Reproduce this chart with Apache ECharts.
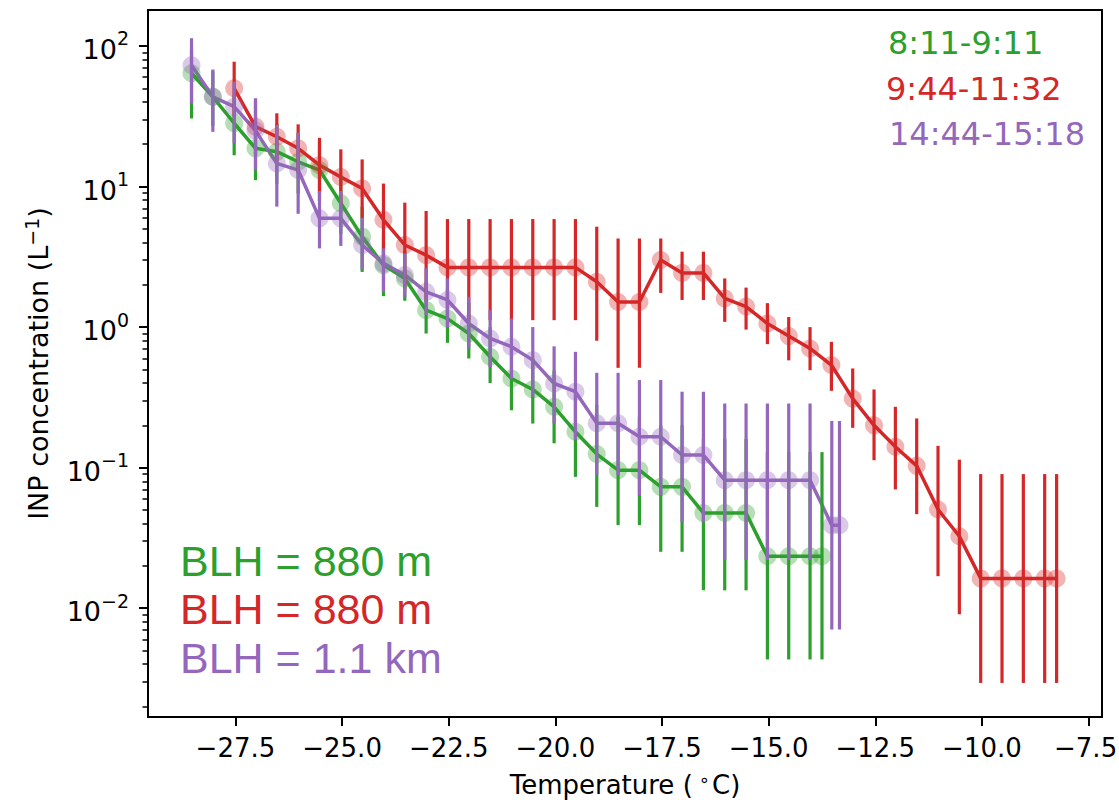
<!DOCTYPE html>
<html><head><meta charset="utf-8">
<script src="https://cdn.jsdelivr.net/npm/echarts@6/dist/echarts.min.js"></script>
<style>html,body{margin:0;padding:0;background:#fff}#c{width:1119px;height:803px}</style>
</head><body><div id="c"></div><script>
// ---- data ----
const greenT = [-28.53,-28.03,-27.53,-27.03,-26.53,-26.03,-25.53,-25.03,-24.53,-24.03,-23.53,-23.03,-22.53,-22.03,-21.53,-21.03,-20.53,-20.03,-19.53,-19.03,-18.53,-18.03,-17.53,-17.03,-16.53,-16.03,-15.53,-15.03,-14.53,-14.03,-13.75];
const greenV = [64,43.5,28.2,18.7,17.7,15.0,13.1,7.6,4.4,2.76,2.22,1.32,1.15,0.90,0.615,0.431,0.36,0.271,0.18,0.125,0.096,0.096,0.073,0.073,0.0476,0.0476,0.0476,0.0234,0.0234,0.0234,0.0234];
const greenLo = [30.5,27,16.7,11.1,10.4,8.9,7.9,4.6,2.47,1.66,1.54,0.90,0.773,0.598,0.40,0.256,0.206,0.149,0.086,0.0526,0.039,0.039,0.0252,0.0252,0.0134,0.0134,0.0134,0.00432,0.00432,0.00432,0.00432];
const greenHi = [95,66,45,30,28,24,21,12,7.2,4.6,3.5,2.1,1.86,1.48,1.0,0.71,0.60,0.49,0.36,0.28,0.23,0.23,0.2,0.2,0.16,0.16,0.16,0.129,0.129,0.129,0.129];

const redT = [-27.53,-27.03,-26.53,-26.03,-25.53,-25.03,-24.53,-24.03,-23.53,-23.03,-22.53,-22.03,-21.53,-21.03,-20.53,-20.03,-19.53,-19.03,-18.53,-18.03,-17.53,-17.03,-16.53,-16.03,-15.53,-15.03,-14.53,-14.03,-13.53,-13.03,-12.53,-12.03,-11.53,-11.03,-10.53,-10.03,-9.53,-9.03,-8.53,-8.25];
const redV = [50,26.7,22.6,18.7,14.2,11.7,9.7,5.8,3.84,3.25,2.66,2.66,2.66,2.66,2.66,2.66,2.66,2.10,1.51,1.51,3.0,2.43,2.43,1.60,1.40,1.06,0.863,0.705,0.537,0.31,0.20,0.141,0.103,0.0504,0.0325,0.0163,0.0163,0.0163,0.0163,0.0163];
const redLo = [31.6,17,15.1,12.4,9.0,7.4,5.96,3.1,1.86,1.51,1.12,1.12,1.12,1.12,1.12,1.12,1.12,0.80,0.513,0.513,1.75,1.56,1.56,1.09,0.96,0.757,0.58,0.494,0.352,0.192,0.113,0.070,0.0467,0.0169,0.00906,0.00294,0.00294,0.00294,0.00294,0.00294];
const redHi = [77.3,41.7,33.2,27.7,22.2,18.4,15.6,10.5,7.68,6.7,5.87,5.87,5.87,5.87,5.87,5.87,5.87,5.18,4.27,4.27,4.27,3.44,3.44,2.22,1.91,1.48,1.18,1.0,0.785,0.508,0.36,0.271,0.224,0.143,0.114,0.09,0.09,0.09,0.09,0.09];

const purpleT = [-28.53,-28.03,-27.53,-27.03,-26.53,-26.03,-25.53,-25.03,-24.53,-24.03,-23.53,-23.03,-22.53,-22.03,-21.53,-21.03,-20.53,-20.03,-19.53,-19.03,-18.53,-18.03,-17.53,-17.03,-16.53,-16.03,-15.53,-15.03,-14.53,-14.03,-13.52,-13.34];
const purpleV = [73,43.5,37,25,14.6,13.1,5.94,5.94,3.84,2.84,2.35,1.78,1.56,1.06,0.83,0.725,0.582,0.397,0.347,0.207,0.207,0.166,0.166,0.123,0.123,0.0815,0.0815,0.0815,0.0815,0.0815,0.039,0.039];
const purpleLo = [39,24.5,20.3,13.1,7.2,6.4,3.63,3.78,2.57,1.78,1.64,1.22,1.0,0.705,0.52,0.43,0.32,0.207,0.157,0.0885,0.0885,0.0637,0.0637,0.041,0.041,0.022,0.022,0.022,0.022,0.022,0.00705,0.00705];
const purpleHi = [113.6,68,55.7,42.5,27.4,24.2,9.3,9.3,6.0,3.63,3.34,2.62,2.22,1.64,1.32,1.15,1.0,0.73,0.667,0.473,0.473,0.42,0.42,0.347,0.347,0.286,0.286,0.286,0.286,0.286,0.215,0.215];

const seriesNames = ['8:11-9:11','9:44-11:32','14:44-15:18'];
const blhLabels = ['BLH = 880 m','BLH = 880 m','BLH = 1.1 km'];
const colors = ['#2ca02c','#d62728','#9467bd'];

const xTicks = [-27.5,-25,-22.5,-20,-17.5,-15,-12.5,-10,-7.5];
const xTickLabels = ['−27.5','−25.0','−22.5','−20.0','−17.5','−15.0','−12.5','−10.0','−7.5'];
const yTicks = [0.01,0.1,1,10,100];
const yTickExp = ['−2','−1','0','1','2'];

const X_MIN = -29.55, X_MAX = -7.186;
const Y_MIN = 0.001683, Y_MAX = 180.3;

// minor log ticks (axis decoration)
const yMinor = [];
for (let e = -3; e <= 2; e++) for (let m = 2; m <= 9; m++) {
  const v = +(m * Math.pow(10, e)).toPrecision(3);
  if (v >= Y_MIN && v <= Y_MAX) yMinor.push(v);
}

const FONT = 'DejaVu Sans';
const chart = echarts.init(document.getElementById('c'), null, {renderer: 'svg'});

function zip(t, v) { return t.map((x, i) => [x, v[i]]); }
function zip3(t, lo, hi) { return t.map((x, i) => [x, lo[i], hi[i]]); }

const groups = [
  [greenT, greenV, greenLo, greenHi],
  [redT, redV, redLo, redHi],
  [purpleT, purpleV, purpleLo, purpleHi]
];

const series = [];
groups.forEach((g, i) => {
  series.push({
    type: 'line', name: seriesNames[i], data: zip(g[0], g[1]),
    symbol: 'circle', symbolSize: 18, showSymbol: true,
    itemStyle: {color: colors[i], opacity: 0.35},
    lineStyle: {color: colors[i], width: 3.5},
    z: 2, animation: false, silent: true, clip: true
  });
});
groups.forEach((g, i) => {
  series.push({
    type: 'custom', name: seriesNames[i] + ' err', data: zip3(g[0], g[2], g[3]),
    encode: {x: 0, y: [1, 2]}, z: 3, silent: true, animation: false,
    renderItem: function (params, api) {
      const p1 = api.coord([api.value(0), api.value(1)]);
      const p2 = api.coord([api.value(0), api.value(2)]);
      return {type: 'line', shape: {x1: p1[0], y1: p1[1], x2: p2[0], y2: p2[1]},
              style: {stroke: colors[i], lineWidth: 3.2}};
    }
  });
});

const tickStyle = {color: '#000', width: 2};
const graphics = [];
const timeY = [43, 88.5, 133.5];
const timeX = [888, 886, 889];
seriesNames.forEach((s, i) => graphics.push({type: 'text', x: timeX[i], y: timeY[i],
  style: {text: s, fill: colors[i], fontSize: 32, fontFamily: FONT, align: 'left', verticalAlign: 'middle'}}));
const blhY = [561, 609, 657.5];
blhLabels.forEach((s, i) => graphics.push({type: 'text', x: 180, y: blhY[i],
  style: {text: s, fill: colors[i], fontSize: 43, fontFamily: 'Liberation Sans', align: 'left', verticalAlign: 'middle'}}));

chart.setOption({
  animation: false,
  backgroundColor: '#fff',
  grid: {left: 148, top: 10, right: 17, bottom: 86, show: true, borderColor: '#000', borderWidth: 2,
         backgroundColor: 'transparent', containLabel: false, outerBoundsMode: 'none'},
  xAxis: {
    type: 'value', min: X_MIN, max: X_MAX,
    axisLine: {show: true, onZero: false, lineStyle: tickStyle},
    axisTick: {show: true, length: 9, inside: false, customValues: xTicks, lineStyle: tickStyle},
    axisLabel: {customValues: xTicks, color: '#000', fontFamily: FONT, fontSize: 26, margin: 18,
      formatter: v => {
        const k = xTicks.findIndex(t => Math.abs(t - v) < 1e-6);
        if (k < 0) return '';
        return k === xTicks.length - 1 ? '{e|' + xTickLabels[k] + '}' : xTickLabels[k];
      },
      rich: {e: {fontFamily: FONT, fontSize: 26, color: '#000', padding: [0, 6, 0, 0]}}},
    splitLine: {show: false},
    name: '{t|Temperature (}{s|∘}{t|C)}', nameLocation: 'middle', nameGap: 53,
    nameTextStyle: {rich: {
      t: {fontFamily: FONT, fontSize: 26, color: '#000', lineHeight: 28, verticalAlign: 'bottom'},
      s: {fontFamily: FONT, fontSize: 18, color: '#000', lineHeight: 28, verticalAlign: 'top', padding: [0, 2, 0, 6]}
    }}
  },
  yAxis: [{
    type: 'log', logBase: 10, min: Y_MIN, max: Y_MAX,
    axisLine: {show: true, lineStyle: tickStyle},
    axisTick: {show: true, length: 9, customValues: yTicks, lineStyle: tickStyle},
    minorTick: {show: false},
    axisLabel: {customValues: yTicks, margin: 19, color: '#000',
      formatter: v => { const k = yTicks.findIndex(t => Math.abs(Math.log10(t) - Math.log10(v)) < 1e-6); return k >= 0 ? '{b|10}{s|' + yTickExp[k] + '}' : ''; },
      rich: {
        b: {fontFamily: FONT, fontSize: 27, color: '#000', lineHeight: 34, verticalAlign: 'bottom'},
        s: {fontFamily: FONT, fontSize: 19, color: '#000', lineHeight: 34, verticalAlign: 'top'}
      }},
    splitLine: {show: false},
    name: '{t|INP concentration (L}{s|−1}{t|)}', nameLocation: 'middle', nameGap: 96, nameRotate: 90,
    nameTextStyle: {rich: {
      t: {fontFamily: FONT, fontSize: 27, color: '#000', lineHeight: 30, verticalAlign: 'bottom'},
      s: {fontFamily: FONT, fontSize: 19, color: '#000', lineHeight: 30, verticalAlign: 'top'}
    }}
  }, {
    type: 'log', logBase: 10, min: Y_MIN, max: Y_MAX, position: 'left', offset: 0,
    axisLine: {show: false},
    axisTick: {show: true, length: 5.5, customValues: yMinor, lineStyle: {color: '#000', width: 1.5}},
    axisLabel: {show: false}, splitLine: {show: false}, minorTick: {show: false}
  }],
  graphic: graphics,
  series: series
});
</script></body></html>
